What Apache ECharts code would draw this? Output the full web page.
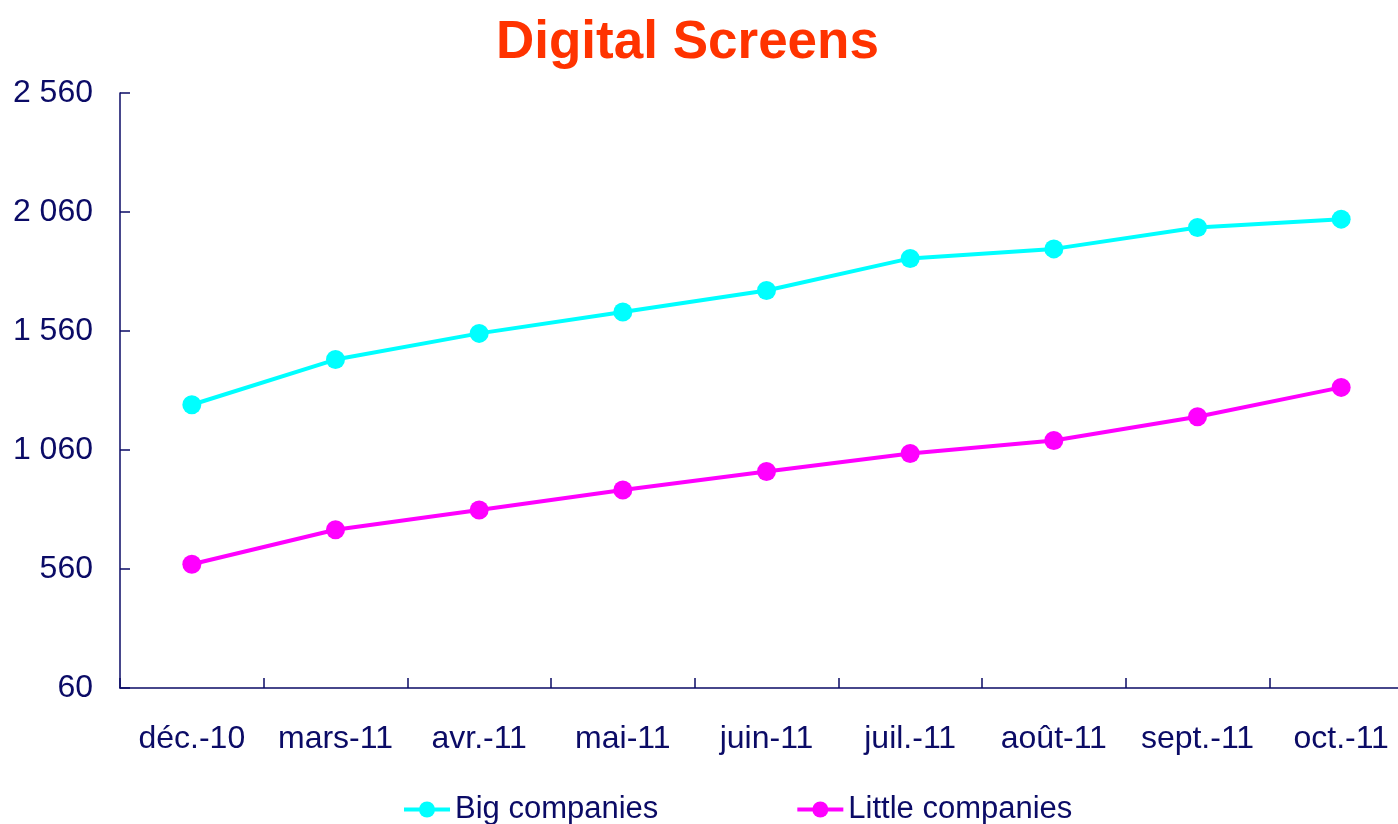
<!DOCTYPE html>
<html>
<head>
<meta charset="utf-8">
<title>Digital Screens</title>
<script src="https://cdn.jsdelivr.net/npm/echarts@6/dist/echarts.min.js"></script>
<style>
  html, body { margin: 0; padding: 0; background: #fff; }
  #chart { width: 1398px; height: 824px; }
</style>
</head>
<body>
<div id="chart"></div>
<script>
// données
var months = ['déc.-10', 'mars-11', 'avr.-11', 'mai-11', 'juin-11', 'juil.-11', 'août-11', 'sept.-11', 'oct.-11'];
var bigCompanies = [1250, 1440, 1550, 1640, 1730, 1865, 1905, 1995, 2030];
var littleCompanies = [580, 725, 808, 892, 970, 1045, 1100, 1200, 1323];
var yTicks = [60, 560, 1060, 1560, 2060, 2560];

var navy = '#0b0b66';
var font = 'Liberation Sans, Arial, sans-serif';

// "2 560" -> espace comme séparateur de milliers
function fmt(v) {
  return String(v).replace(/\B(?=(\d{3})+(?!\d))/g, ' ');
}

var myChart = echarts.init(document.getElementById('chart'));
var option = {
  animation: false,
  title: {
    text: 'Digital Screens',
    left: 491,
    top: 12,
    textStyle: {
      color: '#ff3300',
      fontSize: 53,
      fontWeight: 'bold',
      fontFamily: font
    }
  },
  legend: {
    left: 397,
    top: 789,
    itemWidth: 46,
    itemHeight: 20,
    itemGap: 137,
    lineStyle: { width: 4 },
    textStyle: { color: navy, fontSize: 31, fontFamily: font },
    data: ['Big companies', 'Little companies']
  },
  grid: {
    left: 120,
    top: 93,
    width: 1293,
    height: 595,
    outerBoundsMode: 'none'
  },
  xAxis: {
    type: 'category',
    data: months,
    boundaryGap: true,
    axisLine: { lineStyle: { color: navy, width: 1.5 } },
    axisTick: { show: true, interval: 0, inside: true, length: 10, lineStyle: { color: navy, width: 1.5 } },
    axisLabel: {
      color: navy,
      fontSize: 32,
      fontFamily: font,
      margin: 35,
      interval: 0
    }
  },
  yAxis: {
    type: 'value',
    min: yTicks[0],
    max: yTicks[yTicks.length - 1],
    interval: 500,
    splitLine: { show: false },
    axisLine: { show: true, lineStyle: { color: navy, width: 1.5 } },
    axisTick: { show: true, inside: true, length: 10, lineStyle: { color: navy, width: 1.5 } },
    axisLabel: {
      color: navy,
      fontSize: 32,
      fontFamily: font,
      margin: 27,
      padding: [4, 0, 0, 0],
      formatter: function (v) { return fmt(v); }
    }
  },
  series: [{
    name: 'Big companies',
    type: 'line',
    data: bigCompanies,
    symbol: 'circle',
    symbolSize: 19,
    color: '#00ffff',
    lineStyle: { width: 4, color: '#00ffff' },
    itemStyle: { color: '#00ffff' }
  }, {
    name: 'Little companies',
    type: 'line',
    data: littleCompanies,
    symbol: 'circle',
    symbolSize: 19,
    color: '#ff00ff',
    lineStyle: { width: 4, color: '#ff00ff' },
    itemStyle: { color: '#ff00ff' }
  }]
};
myChart.setOption(option, true);
window.addEventListener('resize', function () {
  if (myChart) {
    myChart.resize();
  }
});
</script>
</body>
</html>
